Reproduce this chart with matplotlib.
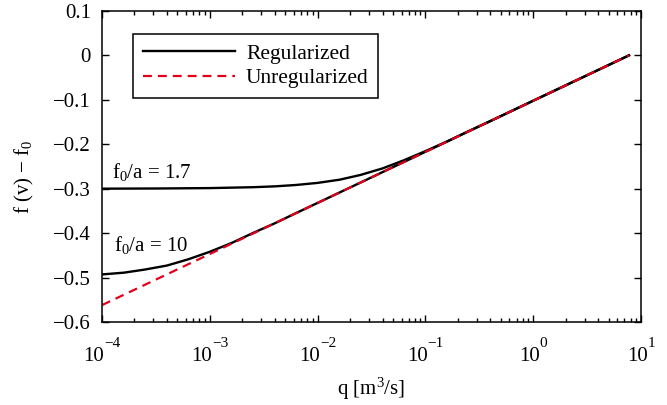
import matplotlib
matplotlib.use('Agg')
import matplotlib.pyplot as plt
from matplotlib.ticker import NullFormatter
import numpy as np

# values
q_reg_17 = [1e-4, 3.2e-4, 1e-3, 2.5e-3, 4e-3, 6.3e-3, 1e-2, 1.6e-2, 2.5e-2, 4e-2,
            6.3e-2, 1e-1, 1.6e-1, 2.5e-1, 4e-1, 1.0, 7.74]
f_reg_17 = [-0.300, -0.2996, -0.2987, -0.2967, -0.2948, -0.2917, -0.2870, -0.2798,
            -0.2691, -0.2544, -0.2362, -0.2155, -0.1935, -0.1709, -0.1481, -0.1022, 0.0]

q_reg_10 = [1e-4, 1.6e-4, 2.5e-4, 4e-4, 6.3e-4, 1e-3, 1.6e-3, 2.5e-3, 4e-3, 6.3e-3,
            1e-2, 1e-1, 1.0, 7.74]
f_reg_10 = [-0.493, -0.489, -0.482, -0.473, -0.459, -0.442, -0.422, -0.400, -0.378,
            -0.355, -0.332, -0.217, -0.102, 0.0]

q_unreg = [1e-4, 7.74]
f_unreg = [-0.562, 0.0]

yticks = [0.1, 0, -0.1, -0.2, -0.3, -0.4, -0.5, -0.6]
xexps = [-4, -3, -2, -1, 0, 1]

plt.rcParams['font.family'] = ['Liberation Serif', 'DejaVu Serif']
plt.rcParams['mathtext.fontset'] = 'custom'
plt.rcParams['mathtext.rm'] = 'Liberation Serif'
plt.rcParams['mathtext.it'] = 'Liberation Serif'
plt.rcParams['mathtext.default'] = 'rm'
plt.rcParams.update({'font.size': 15})

fig = plt.figure(figsize=(6.67, 4.05), dpi=100)
ax = fig.add_axes([0.153, 0.205, 0.808, 0.768])

red = '#e0001b'
ax.plot(q_reg_17, f_reg_17, color='black', lw=1.7, label='Regularized')
ax.plot(q_reg_10, f_reg_10, color='black', lw=1.7)
ax.plot(q_unreg, f_unreg, color=red, lw=1.6, ls=(0, (4, 2.7)), label='Unregularized')

ax.set_xscale('log')
ax.set_xlim(1e-4, 1e1)
ax.set_ylim(-0.6, 0.1)
ax.set_yticks(yticks)
ax.set_yticklabels(['0.1', '0', '\u22120.1', '\u22120.2', '\u22120.3', '\u22120.4', '\u22120.5', '\u22120.6'])
ax.xaxis.set_major_formatter(NullFormatter())
ax.xaxis.set_minor_formatter(NullFormatter())

ax.tick_params(which='both', direction='in', top=True, right=True, width=1)
ax.tick_params(which='major', length=5, pad=8)
ax.tick_params(which='minor', length=3)
for s in ax.spines.values():
    s.set_linewidth(1.1)

## x tick labels in the MATLAB style: "10" with a raised exponent
base_lbls = []
exp_lbls = []
for e in xexps:
    etxt = str(e).replace('-', '\u2212')
    b = ax.annotate('10', xy=(10.0**e, 0), xycoords=('data', 'axes fraction'),
                    xytext=(0, -39), textcoords='offset pixels', ha='left', va='baseline',
                    fontsize=15, annotation_clip=False)
    t = ax.annotate(etxt, xy=(10.0**e, 0), xycoords=('data', 'axes fraction'),
                    xytext=(0, -25), textcoords='offset pixels', ha='left', va='baseline',
                    fontsize=11, annotation_clip=False)
    base_lbls.append(b)
    exp_lbls.append(t)

fig.canvas.draw()
rend = fig.canvas.get_renderer()
for b, t in zip(base_lbls, exp_lbls):
    w1 = b.get_window_extent(rend).width
    w2 = t.get_window_extent(rend).width
    x0 = -(w1 + w2) / 2.0
    b.xyann = (x0, -39)
    t.xyann = (x0 + w1, -25)

ax.set_xlabel('q [m$^3$/s]')
ax.xaxis.set_label_coords(0.5, -0.172)
ax.xaxis.label.set_va('top')
ax.set_ylabel('f (v) \u2212 f$_0$')
ax.yaxis.set_label_coords(-0.143, 0.466)
ax.yaxis.label.set_va('center')

ax.text(1.25e-4, -0.263, 'f$_0$/a = 1.7', va='center', ha='left')
ax.text(1.3e-4, -0.427, 'f$_0$/a = 10', va='center', ha='left')

leg = ax.legend(loc='upper left', bbox_to_anchor=(0.0575, 0.926), borderaxespad=0,
                fancybox=False, framealpha=1, edgecolor='black', handlelength=4.3,
                handletextpad=0.5, borderpad=0.45, labelspacing=0.2, fontsize=15.5)
leg.get_frame().set_linewidth(1.1)

fig.savefig('out.png', dpi=100)
